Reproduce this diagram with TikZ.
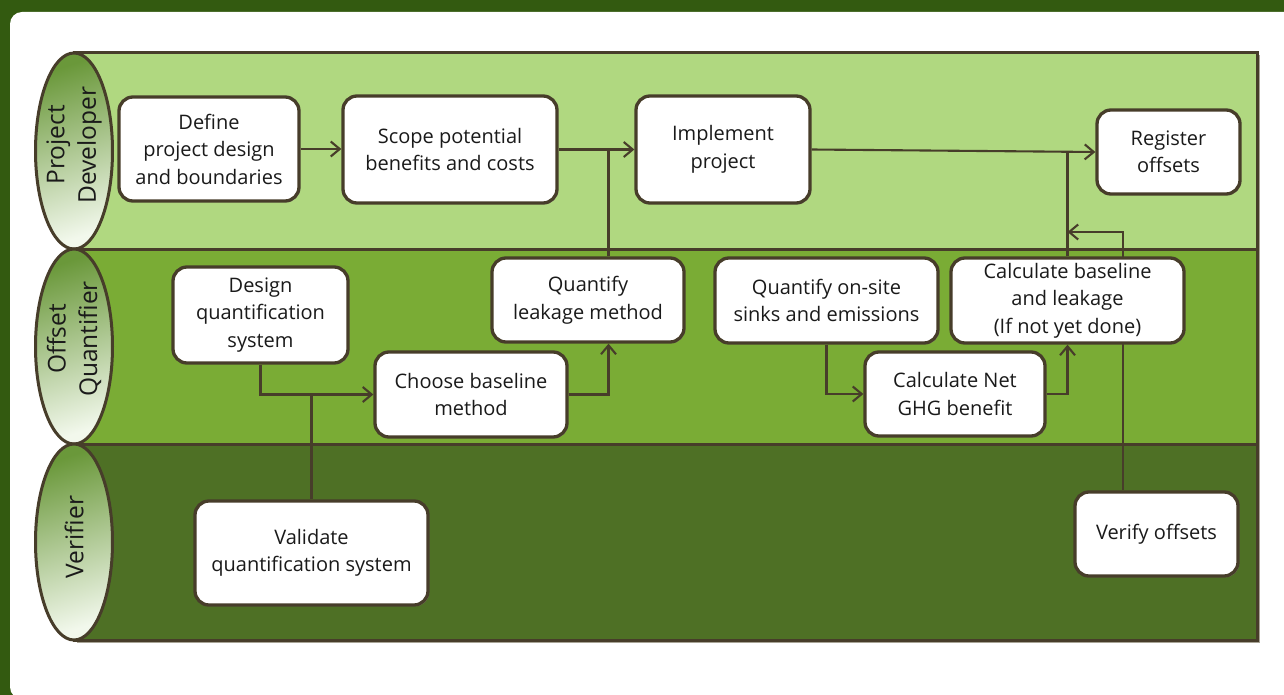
\documentclass[tikz,border=0pt]{standalone}
\usepackage{fontspec}
\setmainfont{Open Sans}
\usetikzlibrary{arrows.meta,shadows,calc}

\definecolor{framegreen}{HTML}{335A10}
\definecolor{laneA}{HTML}{B0D880}
\definecolor{laneB}{HTML}{7AAC35}
\definecolor{laneC}{HTML}{4E7025}
\definecolor{ink}{HTML}{473D2A}
\definecolor{shadowgrey}{HTML}{A8A496}
\definecolor{ovalTop}{HTML}{6A983A}
\definecolor{ovalMid}{HTML}{A9D27A}
\definecolor{ovalBot}{HTML}{F2F8EC}
\definecolor{txt}{HTML}{1A1A1A}

\newcommand\bxfont{\fontsize{20}{27.5}\selectfont}
\newcommand\lnfont{\fontsize{24.5}{31.5}\selectfont}

\pgfdeclarelayer{steps}
\pgfsetlayers{main,steps}

\begin{document}
\begin{tikzpicture}[x=1pt,y=-1pt,
  lane/.style={draw=ink, line width=3pt},
  oval/.style={draw=ink, line width=3pt},
  wire/.style={draw=ink, line width=2.1pt},
  edge/.style={wire, -{Straight Barb[length=9pt,width=15pt,line width=2.1pt]}},
  stepbox/.style={draw=ink, line width=3.3pt, fill=white, rounded corners=14pt,
    align=center, font=\bxfont, text=txt, inner sep=0pt,
    drop shadow={shadow xshift=1.2pt, shadow yshift=-1.2pt, fill=shadowgrey, opacity=0.8}},
  lanelabel/.style={rotate=90, align=center, font=\lnfont, text=txt, inner sep=0pt},
]
\useasboundingbox (0,0) rectangle (1284,695);

% frame and white sheet
\begin{scope}
  \clip (0,0) rectangle (1284,695);
  \fill[framegreen] (0,0) rectangle (1284,695);
  \fill[white, rounded corners=12pt] (10,12) rectangle (1310,699);
\end{scope}

% swim lanes
\fill[shadowgrey] (76.5,55.5) rectangle (1260,642.5);
\draw[lane, fill=laneA] (74,53) rectangle (1257,249);
\draw[lane, fill=laneB] (74,249) rectangle (1257,444);
\draw[lane, fill=laneC] (74,444) rectangle (1257,640);

% lane caps
\foreach \cy/\ry in {151/98, 346.5/97.5, 542/98}{
  \shade[top color=ovalTop, middle color=ovalMid, bottom color=ovalBot, shading angle=18]
    (74,\cy) ellipse [x radius=38.5pt, y radius=\ry pt];
  \draw[oval] (74,\cy) ellipse [x radius=38.5pt, y radius=\ry pt];
}
\node[lanelabel] (devlabel) at (74,145) {Project\\Developer};
\node[lanelabel] (qualabel) at (74,339) {Offset\\Quantifier};
\node[lanelabel] (verlabel) at (74,537) {Verifier};

% junction points on the connectors
\coordinate (j1) at (608.5,150);
\coordinate (j2) at (1123,232);

% process steps, on the layer above the connectors
\begin{pgfonlayer}{steps}
\node[stepbox, minimum width=180pt, minimum height=104pt] (define) at (209,149) {Define\\project design\\and boundaries};
\node[stepbox, minimum width=214pt, minimum height=107pt] (scope) at (450,149.5) {Scope potential\\benefits and costs};
\node[stepbox, minimum width=174pt, minimum height=107pt] (implement) at (723,149.5) {Implement\\project};
\node[stepbox, minimum width=143pt, minimum height=84pt] (register) at (1168.5,152) {Register\\offsets};
\node[stepbox, minimum width=175pt, minimum height=96pt] (design) at (260.5,315) {Design\\quantification\\system};
\node[stepbox, minimum width=192pt, minimum height=85pt] (choose) at (471,394.5) {Choose baseline\\method};
\node[stepbox, minimum width=192pt, minimum height=84pt] (qleak) at (588,300) {Quantify\\leakage method};
\node[stepbox, minimum width=223pt, minimum height=85pt] (qsite) at (826.5,300.5) {Quantify on-site\\sinks and emissions};
\node[stepbox, minimum width=233pt, minimum height=85pt] (calcbase) at (1067.5,300.5) {Calculate baseline\\and leakage\\(If not yet done)};
\node[stepbox, minimum width=180pt, minimum height=84pt] (calcnet) at (955,394) {Calculate Net\\GHG benefit};
\node[stepbox, minimum width=233pt, minimum height=104pt] (validate) at (311.5,553) {Validate\\quantification system};
\node[stepbox, minimum width=163pt, minimum height=84pt] (verify) at (1156.5,534) {Verify offsets};
\end{pgfonlayer}

% connectors
\draw[edge] (define.east) -- (define.east -| scope.west);
\draw[edge] (scope.east) -- (implement.west);
\draw[wire] (qleak.north -| j1) -- (j1 |- scope.east);
\draw[edge] (implement.east) -- (register.west);
\draw[wire] (calcbase.north) -- (calcbase.north |- register.west);
\draw[edge] (verify.north -| j2) -- (j2) -- (j2 -| calcbase.north);
\draw[edge] (design.south) |- (choose.west);
\draw[wire] (validate.north) -- (validate.north |- choose.west);
\draw[edge] (choose.east) -| (qleak.south -| j1);
\draw[edge] (qsite.south) |- (calcnet.west);
\draw[edge] (calcnet.east) -| (calcbase.south);
\end{tikzpicture}
\end{document}
